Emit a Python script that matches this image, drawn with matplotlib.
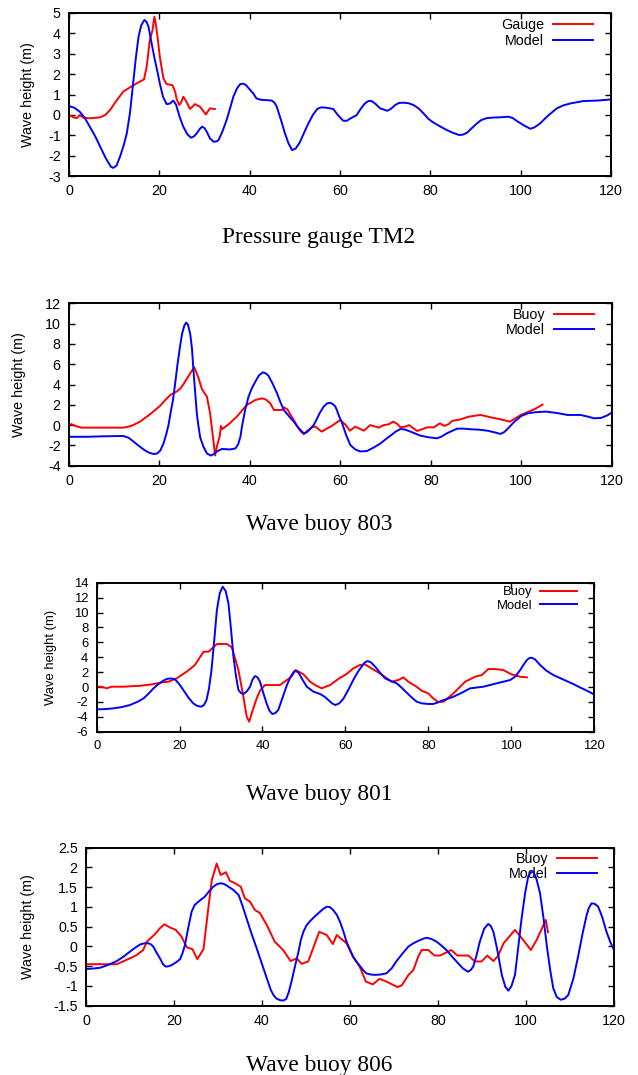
import numpy as np
import matplotlib
matplotlib.use('Agg')
from matplotlib import pyplot as plt
from matplotlib.ticker import FormatStrFormatter, MultipleLocator

plt.rcParams['font.family'] = 'Liberation Sans'
plt.rcParams['axes.unicode_minus'] = False

# ---- Pressure gauge TM2 ----
tm2_model_t = [0, 1.2, 2.4, 3.5, 4.6, 5.8, 6.9, 8.2, 9.3, 9.8, 10.5, 11.3, 12.1, 12.8, 13.5, 14.2, 14.8, 15.4, 16.0, 16.7,
               17.2, 17.6, 18.3, 19.0, 19.6, 20.1, 20.8, 21.6, 22.3, 23.1, 23.7, 24.5, 25.3, 26.2, 27.0, 27.7, 28.3, 29.0,
               29.5, 30.0, 30.5, 31.2, 32.0, 32.7, 33.1, 34.0, 34.9, 35.7, 36.4, 37.2, 37.9, 38.6, 39.2, 40.0, 40.8, 41.5,
               42.3, 43.0, 44.0, 44.9, 45.5, 46.0, 47.0, 47.8, 48.6, 49.4, 50.2, 51.1, 52.2, 53.0, 54.0, 55.0, 55.9, 57.0,
               58.5, 59.5, 60.7, 61.5, 62.5, 63.7, 64.6, 65.5, 66.3, 67.0, 67.8, 68.9, 70.5, 71.3, 72.2, 73.0, 74.0, 75.2,
               76.3, 77.5, 78.5, 79.6, 80.7, 82.2, 83.6, 85.0, 86.4, 87.2, 88.1, 89.2, 90.3, 91.3, 92.5, 94.0, 95.4, 97.3,
               98.2, 99.1, 100.6, 102.1, 103.0, 104.3, 106.0, 108.0, 109.5, 111.0, 113.9, 116.8, 118.5, 120]
tm2_model = [0.43, 0.35, 0.15, -0.15, -0.58, -1.05, -1.56, -2.15, -2.55, -2.6, -2.5, -2.05, -1.5, -0.9, 0.1, 1.55, 2.8,
             3.84, 4.4, 4.66, 4.55, 4.33, 3.5, 2.7, 2.1, 1.55, 0.9, 0.53, 0.55, 0.7, 0.5, -0.1, -0.58, -0.95, -1.12, -1.05,
             -0.9, -0.68, -0.58, -0.65, -0.83, -1.15, -1.32, -1.3, -1.24, -0.8, -0.25, 0.35, 0.9, 1.3, 1.51, 1.53, 1.46,
             1.25, 1.05, 0.81, 0.75, 0.73, 0.72, 0.7, 0.6, 0.4, -0.3, -0.9, -1.4, -1.73, -1.65, -1.35, -0.8, -0.42, 0.0,
             0.3, 0.37, 0.35, 0.29, 0.0, -0.29, -0.29, -0.15, -0.01, 0.3, 0.56, 0.68, 0.68, 0.55, 0.32, 0.2, 0.3, 0.48,
             0.58, 0.6, 0.57, 0.48, 0.3, 0.07, -0.2, -0.38, -0.57, -0.74, -0.88, -0.99, -0.97, -0.88, -0.65, -0.42, -0.25,
             -0.16, -0.13, -0.12, -0.09, -0.15, -0.29, -0.5, -0.68, -0.62, -0.42, -0.05, 0.32, 0.47, 0.56, 0.68, 0.7,
             0.73, 0.76]
tm2_gauge_t = [0, 1.0, 1.7, 2.4, 3.2, 4.6, 6.9, 8.0, 9.1, 10.2, 12.0, 13.5, 15.0, 16.6, 17.2, 17.9, 18.5, 18.9, 19.2,
               19.6, 20.1, 20.9, 21.6, 22.9, 23.5, 23.8, 24.4, 24.9, 25.3, 25.8, 26.8, 27.9, 29.0, 30.3, 31.2, 32.3]
tm2_gauge = [-0.01, -0.12, -0.16, -0.01, -0.14, -0.17, -0.12, -0.01, 0.24, 0.6, 1.14, 1.35, 1.55, 1.74, 2.37, 3.67,
             4.17, 4.82, 4.49, 3.84, 2.86, 1.79, 1.51, 1.46, 1.14, 0.81, 0.48, 0.65, 0.89, 0.73, 0.29, 0.53, 0.4, 0.02,
             0.32, 0.29]

# ---- Wave buoy 803 ----
b803_model_t = [0, 4, 8, 12.0, 13.2, 14.2, 15.3, 16.5, 17.6, 18.7, 19.5, 20.2, 20.9, 21.5, 22.0, 22.5, 23.0, 23.5,
                24.0, 24.5, 25.0, 25.5, 25.9, 26.3, 26.8, 27.2, 27.5, 27.9, 28.3, 28.6, 29.0, 29.7, 30.5, 31.4, 32.0,
                32.7, 33.8, 35.6, 36.8, 37.4, 37.9, 38.3, 39.0, 39.7, 40.4, 41.2, 42.0, 42.9, 43.5, 44.1, 45.0, 46.0,
                46.8, 47.5, 48.6, 49.7, 50.8, 51.9, 52.6, 53.3, 54.1, 54.8, 55.4, 56.3, 57.1, 57.8, 58.4, 58.9, 59.3,
                59.7, 60.4, 61.3, 62.2, 63.3, 64.4, 65.9, 67.4, 68.9, 70.0, 71.1, 72.2, 73.3, 74.4, 75.5, 77.7, 79.5,
                81.4, 82.5, 83.6, 85.8, 87.3, 88.8, 90.6, 92.5, 94.0, 95.4, 96.2, 96.9, 98.4, 100.0, 101.4, 102.9,
                105.4, 107.8, 110.2, 113.1, 114.6, 116.1, 117.6, 119.0, 120]
b803_model = [-1.15, -1.15, -1.1, -1.07, -1.25, -1.6, -2.0, -2.4, -2.7, -2.85, -2.8, -2.5, -1.8, -0.9, 0.0, 1.3, 2.5,
              4.2, 6.0, 7.6, 9.0, 9.8, 10.1, 9.9, 9.0, 7.5, 5.5, 3.2, 1.0, 0.0, -1.2, -2.1, -2.8, -3.0, -2.85, -2.6,
              -2.35, -2.4, -2.3, -1.9, -1.15, 0.0, 1.6, 2.8, 3.6, 4.28, 4.9, 5.2, 5.1, 4.87, 4.1, 3.13, 2.2, 1.49,
              0.9, 0.34, -0.3, -0.81, -0.7, -0.4, 0.0, 0.6, 1.16, 1.82, 2.15, 2.2, 2.05, 1.82, 1.4, 0.9, 0.18, -1.0,
              -1.96, -2.4, -2.6, -2.55, -2.2, -1.8, -1.4, -1.04, -0.65, -0.38, -0.45, -0.64, -1.04, -1.2, -1.3, -1.1,
              -0.8, -0.35, -0.35, -0.41, -0.45, -0.55, -0.7, -0.87, -0.7, -0.41, 0.3, 0.9, 1.15, 1.26, 1.33, 1.2,
              1.0, 1.0, 0.85, 0.67, 0.7, 0.95, 1.23]
b803_buoy_t = [0, 0.6, 1.5, 2.8, 12.0, 13.2, 14.2, 15.7, 17.9, 20.1, 21.3, 22.4, 23.8, 24.5, 25.3, 26.8, 27.7, 28.6,
               29.4, 30.5, 31.2, 32.0, 32.3, 32.7, 33.3, 33.6, 33.8, 35.3, 37.1, 39.3, 41.2, 42.7, 43.6, 44.5, 45.3,
               47.1, 47.5, 48.3, 49.0, 49.7, 50.4, 51.1, 51.9, 52.6, 53.7, 54.5, 55.4, 55.9, 57.0, 58.1, 60.0, 61.2,
               62.1, 63.3, 65.2, 66.6, 68.5, 69.6, 70.7, 71.7, 72.6, 73.3, 74.4, 75.2, 77.0, 79.2, 80.7, 82.0, 83.0,
               84.0, 84.7, 86.6, 88.4, 91.0, 93.2, 95.4, 97.5, 99.9, 102.9, 104.7]
b803_buoy = [0.08, 0.08, -0.1, -0.25, -0.25, -0.15, 0.0, 0.34, 1.06, 1.88, 2.47, 2.97, 3.3, 3.55, 4.02, 5.1, 5.7,
             4.7, 3.53, 2.8, 1.16, -1.8, -3.0, -2.1, -1.14, -0.08, -0.41, 0.08, 0.83, 1.98, 2.47, 2.64, 2.5, 2.15,
             1.49, 1.49, 1.75, 1.55, 1.0, 0.51, -0.08, -0.55, -0.9, -0.6, -0.22, -0.15, -0.48, -0.64, -0.35, -0.08,
             0.51, 0.0, -0.55, -0.15, -0.55, 0.0, -0.25, 0.0, 0.08, 0.34, 0.11, -0.22, -0.15, 0.0, -0.58, -0.22,
             -0.22, 0.18, -0.08, 0.11, 0.41, 0.57, 0.83, 1.0, 0.77, 0.57, 0.34, 1.0, 1.56, 2.02]

# ---- Wave buoy 801 ----
b801_model_t = [0, 2.0, 4.0, 6.0, 8.0, 10.0, 11.3, 12.5, 13.7, 14.7, 15.7, 16.5, 17.3, 18.1, 18.9, 19.9, 20.9, 22.1,
                23.3, 24.3, 25.3, 25.9, 26.5, 27.1, 27.7, 28.4, 29.0, 29.7, 30.4, 31.1, 31.8, 32.4, 33.0, 33.6, 34.2,
                34.8, 35.4, 36.2, 37.0, 37.6, 38.2, 38.8, 39.4, 40.2, 41.0, 41.7, 42.4, 43.1, 43.8, 44.8, 45.9, 46.8,
                47.7, 48.2, 48.7, 49.7, 50.7, 52.3, 53.9, 55.0, 55.9, 56.8, 57.6, 58.5, 59.5, 60.7, 61.9, 63.0, 63.9,
                64.7, 65.4, 66.2, 67.2, 68.4, 69.6, 71.0, 72.4, 73.6, 74.8, 76.0, 77.2, 78.5, 80.0, 81.2, 82.2, 83.2,
                84.6, 86.1, 88.0, 90.1, 93.3, 96.5, 99.8, 101.0, 102.2, 103.0, 103.8, 104.4, 105.0, 105.8, 107.0,
                108.5, 110.2, 111.8, 113.4, 115.0, 116.6, 118.3, 120]
b801_model = [-3.0, -2.97, -2.87, -2.7, -2.42, -1.95, -1.53, -0.9, -0.18, 0.3, 0.71, 0.98, 1.12, 1.15, 1.03, 0.4,
              -0.4, -1.4, -2.2, -2.55, -2.64, -2.4, -1.75, -0.2, 2.28, 6.5, 10.33, 12.6, 13.46, 12.9, 11.2, 7.8, 4.07,
              1.5, -0.4, -0.8, -0.94, -0.6, 0.04, 1.0, 1.47, 1.3, 0.71, -0.8, -2.2, -3.2, -3.63, -3.5, -3.1, -1.5,
              0.26, 1.4, 2.14, 2.1, 1.92, 0.95, 0.04, -0.63, -0.94, -1.3, -1.75, -2.2, -2.42, -2.2, -1.6, -0.4, 0.94,
              2.0, 2.72, 3.3, 3.49, 3.3, 2.72, 1.9, 1.16, 0.8, 0.49, -0.1, -0.76, -1.4, -1.97, -2.2, -2.28, -2.28,
              -2.1, -1.84, -1.6, -1.3, -0.8, -0.18, 0.04, 0.49, 0.94, 1.4, 2.28, 3.0, 3.62, 3.88, 3.93, 3.7, 2.95,
              2.2, 1.6, 1.2, 0.8, 0.4, -0.05, -0.5, -0.99]
b801_buoy_t = [0, 1.2, 2.4, 3.6, 6.4, 10.5, 13.3, 15.7, 17.3, 19.3, 21.7, 23.7, 25.0, 25.8, 27.0, 29.0, 31.4, 32.6,
               33.4, 34.2, 35.4, 36.2, 36.8, 37.4, 38.6, 39.4, 40.6, 42.6, 44.2, 45.9, 47.0, 48.0, 49.9, 51.5, 52.7,
               54.3, 56.3, 58.5, 60.3, 61.9, 63.5, 64.7, 66.3, 68.3, 71.2, 72.8, 74.0, 75.2, 77.2, 78.4, 80.0, 81.2,
               82.4, 83.7, 86.1, 88.9, 91.3, 92.9, 94.5, 96.1, 98.1, 100.1, 102.2, 103.8]
b801_buoy = [0.04, 0.04, -0.18, 0.04, 0.04, 0.17, 0.35, 0.62, 0.71, 1.16, 2.05, 2.95, 4.07, 4.74, 4.74, 5.77, 5.77,
             5.32, 3.84, 2.28, -1.3, -3.99, -4.66, -3.54, -1.53, -0.5, 0.26, 0.26, 0.26, 0.94, 1.38, 2.28, 1.7, 0.71,
             0.26, -0.18, 0.26, 1.16, 1.74, 2.5, 2.95, 3.04, 2.5, 1.83, 0.71, 0.94, 1.3, 0.71, 0.04, -0.5, -0.85,
             -1.53, -2.02, -1.97, -0.85, 0.71, 1.38, 1.6, 2.41, 2.41, 2.28, 1.7, 1.38, 1.3]

# ---- Wave buoy 806 ----
b806_model_t = [0, 1.5, 3.2, 5.0, 7.0, 8.5, 10.0, 11.2, 12.3, 13.3, 14.2, 14.8, 15.3, 16.0, 16.8, 17.5, 18.1, 18.8,
                19.5, 20.5, 21.4, 22.0, 22.5, 23.2, 24.0, 24.7, 25.5, 26.3, 27.0, 28.0, 28.9, 29.8, 30.7, 31.4, 32.0,
                33.5, 34.7, 35.5, 36.5, 37.6, 38.8, 40.0, 41.1, 42.0, 42.6, 43.3, 44.1, 44.8, 45.5, 46.1, 46.7, 47.5,
                48.3, 48.8, 49.4, 50.1, 50.9, 52.0, 53.0, 53.9, 54.8, 55.5, 56.2, 57.0, 57.7, 58.5, 59.2, 60.0, 60.7,
                61.5, 62.2, 63.0, 63.7, 64.7, 65.7, 67.0, 68.3, 69.5, 70.5, 72.0, 73.3, 74.4, 75.5, 76.5, 77.4, 78.5,
                79.7, 80.8, 81.9, 83.3, 84.6, 85.7, 86.8, 87.4, 88.0, 88.7, 89.5, 90.5, 91.4, 92.0, 92.6, 93.5, 94.5,
                95.3, 96.0, 96.7, 97.5, 98.2, 99.0, 99.8, 100.5, 101.1, 101.7, 102.4, 103.2, 104.0, 104.7, 105.5,
                106.2, 107.0, 107.9, 108.8, 109.6, 110.8, 111.9, 112.9, 113.8, 114.3, 114.9, 115.6, 116.4, 117.3,
                118.3, 119.2, 120]
b806_model = [-0.57, -0.56, -0.54, -0.47, -0.37, -0.26, -0.13, -0.03, 0.05, 0.08, 0.08, 0.05, -0.005, -0.15, -0.3,
              -0.45, -0.51, -0.5, -0.47, -0.4, -0.32, -0.15, 0.04, 0.45, 0.88, 1.05, 1.13, 1.2, 1.26, 1.4, 1.51, 1.58,
              1.6, 1.58, 1.54, 1.43, 1.3, 1.05, 0.71, 0.33, -0.05, -0.45, -0.81, -1.1, -1.23, -1.32, -1.36, -1.37,
              -1.33, -1.15, -0.89, -0.5, -0.13, 0.15, 0.37, 0.53, 0.64, 0.76, 0.86, 0.95, 1.01, 0.99, 0.92, 0.8, 0.63,
              0.38, 0.12, -0.08, -0.26, -0.39, -0.49, -0.6, -0.68, -0.71, -0.72, -0.71, -0.68, -0.55, -0.38, -0.17,
              0.0, 0.08, 0.14, 0.19, 0.22, 0.19, 0.12, 0.02, -0.09, -0.27, -0.43, -0.56, -0.64, -0.6, -0.51, -0.25,
              0.12, 0.45, 0.57, 0.52, 0.37, -0.1, -0.72, -1.02, -1.12, -1.0, -0.72, -0.05, 0.71, 1.35, 1.77, 1.88,
              1.89, 1.7, 1.34, 0.7, 0.04, -0.6, -1.06, -1.28, -1.35, -1.32, -1.23, -0.8, -0.22, 0.35, 0.8, 0.98, 1.09,
              1.08, 1.01, 0.75, 0.37, 0.1, -0.09]
b806_buoy_t = [0, 7.0, 9.2, 11.5, 13.0, 13.8, 15.5, 16.8, 17.8, 19.1, 20.4, 21.7, 22.9, 24.2, 25.3, 26.7, 27.8, 28.6,
               29.7, 30.6, 31.8, 32.7, 33.9, 35.2, 36.1, 37.3, 38.4, 39.5, 41.1, 42.9, 44.8, 46.5, 47.9, 49.0, 50.5,
               53.0, 54.7, 56.1, 57.0, 59.2, 60.7, 62.2, 63.6, 65.2, 66.7, 68.3, 70.8, 71.8, 73.3, 74.4, 75.5, 76.3,
               77.8, 79.2, 80.5, 83.0, 84.4, 86.9, 88.4, 89.9, 91.2, 92.6, 93.7, 94.9, 97.5, 99.4, 101.1, 102.4,
               103.8, 104.5, 105.0]
b806_buoy = [-0.45, -0.45, -0.34, -0.22, -0.09, 0.12, 0.29, 0.46, 0.56, 0.48, 0.42, 0.25, -0.02, -0.07, -0.32, -0.07,
             0.97, 1.68, 2.1, 1.81, 1.88, 1.66, 1.6, 1.51, 1.22, 1.13, 0.92, 0.85, 0.54, 0.12, -0.09, -0.37, -0.3,
             -0.44, -0.38, 0.37, 0.29, 0.06, 0.29, 0.08, -0.26, -0.51, -0.89, -0.96, -0.82, -0.89, -1.03, -0.98,
             -0.72, -0.6, -0.26, -0.09, -0.09, -0.23, -0.23, -0.09, -0.23, -0.23, -0.38, -0.38, -0.23, -0.37, -0.23,
             0.08, 0.42, 0.16, -0.09, 0.16, 0.5, 0.67, 0.36]

W, H = 638, 1075
fig = plt.figure(figsize=(W / 100, H / 100), dpi=100)


def panel(box, t_obs, y_obs, t_mod, y_mod, obs_name, ylim, ystep, title, title_base,
          ylab_x, leg_end, leg_y, fs=10.3):
    l, t, r, b = box
    ax = fig.add_axes([l / W, 1 - b / H, (r - l) / W, (b - t) / H])
    ax.plot(t_obs, y_obs, color='#ff0000', lw=1.4, label=obs_name)
    ax.plot(t_mod, y_mod, color='#0000ff', lw=1.4, label='Model')
    ax.set_xlim(0, 120)
    ax.set_ylim(*ylim)
    ax.xaxis.set_major_locator(MultipleLocator(20))
    ax.yaxis.set_major_locator(MultipleLocator(ystep))
    ax.yaxis.set_major_formatter(FormatStrFormatter('%g'))
    ax.tick_params(direction='in', top=True, right=True, length=4, width=1,
                   labelsize=fs, pad=6)
    for s in ax.spines.values():
        s.set_linewidth(1.4)
    ax.set_ylabel('Wave height (m)', fontsize=fs, va='center')
    ax.yaxis.set_label_coords((ylab_x - l) / (r - l), 0.5)
    # gnuplot style key: text then line sample, top right
    bx = (leg_end - l) / (r - l)
    by = 1 - (leg_y - 7 - t) / (b - t)
    leg = ax.legend(loc='upper right', bbox_to_anchor=(bx, by), frameon=False,
                    markerfirst=False, fontsize=fs, handlelength=2.8, handletextpad=0.6,
                    borderpad=0, borderaxespad=0, labelspacing=0.1)
    leg.set_zorder(1)
    fig.text(0.5, 1 - title_base / H, title, ha='center', va='baseline',
             family='Liberation Serif', fontsize=16.8)
    return ax


panel((69, 13, 611, 176), tm2_gauge_t, tm2_gauge, tm2_model_t, tm2_model, 'Gauge',
      (-3, 5), 1, 'Pressure gauge TM2', 243, 28, 593, 25.3)
panel((69, 303.3, 611.7, 465.7), b803_buoy_t, b803_buoy, b803_model_t, b803_model, 'Buoy',
      (-4, 12), 2, 'Wave buoy 803', 530, 19, 594, 315)
panel((96.7, 582.7, 594, 731.7), b801_buoy_t, b801_buoy, b801_model_t, b801_model, 'Buoy',
      (-6, 14), 2, 'Wave buoy 801', 800, 51, 577, 593.3, fs=9.4)
panel((86, 847.7, 614, 1005.7), b806_buoy_t, b806_buoy, b806_model_t, b806_model, 'Buoy',
      (-1.5, 2.5), 0.5, 'Wave buoy 806', 1071, 28, 596.7, 859)

fig.savefig('out.png', dpi=100)
